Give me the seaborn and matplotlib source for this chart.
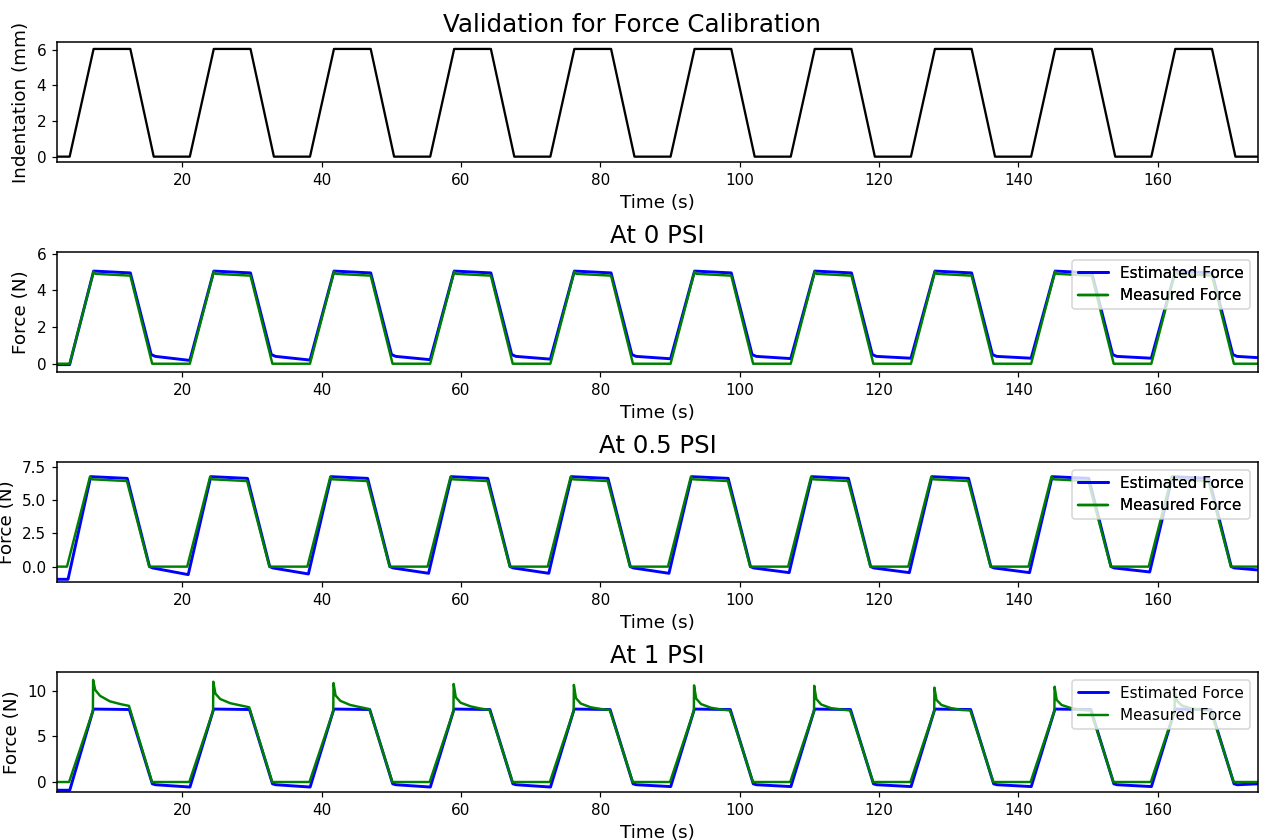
import numpy as np
import pandas as pd
import seaborn as sns
import matplotlib
matplotlib.use("Agg")
import matplotlib.pyplot as plt

# ---------------- data ----------------
T_START, T_END = 2.0, 174.4

# Indentation (mm)
ind_starts = [3.83, 21.08, 38.33, 55.58, 72.83, 90.08, 107.33, 124.58, 141.83, 159.08]
ind_offsets = [0.0, 3.44, 8.71, 12.07]
ind_values = [0.0, 6.05, 6.05, 0.0]

# 0 PSI
p0_starts = [3.83, 21.08, 38.33, 55.58, 72.83, 90.08, 107.33, 124.58, 141.83, 159.08]
p0_meas_offsets = [0.0, 3.44, 3.7, 8.71, 11.85]
p0_meas_values = [0.0, 5.02, 4.9, 4.8, 0.0]
p0_est_offsets = [0.0, 3.44, 8.71, 11.7, 12.3]
p0_est_values = [5.05, 4.95, 0.5, 0.4]          # after the cycle base value
p0_est_base0 = -0.05
p0_est_holdend = [0.18, 0.2, 0.22, 0.25, 0.27, 0.28, 0.3, 0.3, 0.3]
p0_est_final = 0.33
p0_meas_final = 0.0

# 0.5 PSI
p5_starts = [3.45, 20.7, 37.95, 55.2, 72.45, 89.7, 106.95, 124.2, 141.45, 158.7]
p5_meas_offsets = [0.0, 3.3, 3.6, 8.6, 11.8]
p5_meas_values = [0.0, 6.75, 6.55, 6.42, 0.0]
p5_est_offsets = [0.15, 3.4, 8.65, 11.85, 12.3]
p5_est_values = [6.75, 6.62, 0.0, -0.1]
p5_est_base0 = -0.95
p5_est_holdend = [-0.6, -0.55, -0.5, -0.5, -0.5, -0.45, -0.45, -0.45, -0.4]
p5_est_final = -0.25
p5_meas_final = 0.0

# 1 PSI
p1_starts = [3.75, 21.0, 38.25, 55.5, 72.75, 90.0, 107.25, 124.5, 141.75, 159.0]
p1_meas_offsets = [0.0, 3.42, 3.45, 3.75, 4.45, 5.85, 7.35, 8.6, 11.9]
p1_meas_rows = [
    [0.0, 7.8, 11.2, 10.1, 9.45, 8.85, 8.55, 8.35, 0.0],
    [0.0, 7.8, 11.0, 9.7, 9.1, 8.65, 8.4, 8.2, 0.0],
    [0.0, 7.8, 10.85, 9.5, 8.9, 8.45, 8.2, 8.0, 0.0],
    [0.0, 7.8, 10.75, 9.3, 8.7, 8.3, 8.05, 7.9, 0.0],
    [0.0, 7.8, 10.65, 9.2, 8.6, 8.2, 8.0, 7.9, 0.0],
    [0.0, 7.8, 10.6, 9.15, 8.55, 8.15, 7.95, 7.85, 0.0],
    [0.0, 7.8, 10.55, 9.1, 8.5, 8.1, 7.95, 7.85, 0.0],
    [0.0, 7.8, 10.35, 9.0, 8.45, 8.1, 7.9, 7.85, 0.0],
    [0.0, 7.8, 10.45, 9.0, 8.45, 8.1, 7.9, 7.85, 0.0],
    [0.0, 7.8, 9.95, 8.9, 8.4, 8.05, 7.9, 7.85, 0.0],
]
p1_est_offsets = [0.1, 3.5, 8.65, 11.95, 12.4]
p1_est_values = [8.0, 7.95, -0.2, -0.3]
p1_est_base0 = -0.9
p1_est_holdend = [-0.55, -0.55, -0.55, -0.55, -0.5, -0.5, -0.5, -0.5, -0.5]
p1_est_final = -0.2
p1_meas_final = 0.0

suptitle = "Validation for Force Calibration"
titles = [None, "At 0 PSI", "At 0.5 PSI", "At 1 PSI"]
ylabels = ["Indentation (mm)", "Force (N)", "Force (N)", "Force (N)"]
xticks = [20, 40, 60, 80, 100, 120, 140, 160]


# ---------------- helpers ----------------
def build_rows(starts, offsets, rows, first_val, final_val):
    t = [T_START]
    v = [first_val]
    for s, row in zip(starts, rows):
        for o, val in zip(offsets, row):
            t.append(s + o)
            v.append(val)
    t.append(T_END)
    v.append(final_val)
    return pd.DataFrame({"t": t, "v": v})


def build_fixed(starts, offsets, values, final_val):
    rows = [values for _ in starts]
    return build_rows(starts, offsets, rows, values[0], final_val)


def build_est(starts, offsets, values, base0, holdends, final_val):
    bases = [base0] + list(holdends)
    rows = [[b] + list(values) for b in bases]
    return build_rows(starts, offsets, rows, base0, final_val)


ind_df = build_fixed(ind_starts, ind_offsets, ind_values, 0.0)
p0_meas = build_fixed(p0_starts, p0_meas_offsets, p0_meas_values, p0_meas_final)
p0_est = build_est(p0_starts, p0_est_offsets, p0_est_values, p0_est_base0, p0_est_holdend, p0_est_final)
p5_meas = build_fixed(p5_starts, p5_meas_offsets, p5_meas_values, p5_meas_final)
p5_est = build_est(p5_starts, p5_est_offsets, p5_est_values, p5_est_base0, p5_est_holdend, p5_est_final)
p1_meas = build_rows(p1_starts, p1_meas_offsets, p1_meas_rows, 0.0, p1_meas_final)
p1_est = build_est(p1_starts, p1_est_offsets, p1_est_values, p1_est_base0, p1_est_holdend, p1_est_final)

# ---------------- style ----------------
sns.set_style("ticks")
plt.rcParams.update({
    "font.family": ["DejaVu Sans"],
    "text.color": "black",
    "axes.labelcolor": "black",
    "axes.edgecolor": "black",
    "xtick.color": "black",
    "ytick.color": "black",
    "axes.linewidth": 1.0,
    "axes.titlesize": 16,
    "axes.labelsize": 12,
    "xtick.labelsize": 10,
    "ytick.labelsize": 10,
    "legend.fontsize": 10,
    "xtick.major.size": 3.5,
    "ytick.major.size": 3.5,
    "xtick.major.width": 0.8,
    "ytick.major.width": 0.8,
})

DPI = 110
fig = plt.figure(figsize=(1264 / DPI, 840 / DPI), dpi=DPI)
axes = fig.subplots(4, 1)
fig.subplots_adjust(left=0.045, right=0.9953, top=0.95, bottom=0.0572, hspace=0.75)

ylims = [(-0.3, 6.44), (-0.45, 6.09), (-1.15, 7.85), (-1.09, 12.07)]
yticks = [[0, 2, 4, 6], [0, 2, 4, 6], [0.0, 2.5, 5.0, 7.5], [0, 5, 10]]

# top panel
sns.lineplot(data=ind_df, x="t", y="v", ax=axes[0], color="black", lw=1.5,
             estimator=None, sort=False)

pairs = [(p0_est, p0_meas), (p5_est, p5_meas), (p1_est, p1_meas)]
for i, (est, meas) in enumerate(pairs, start=1):
    ax = axes[i]
    sns.lineplot(data=est, x="t", y="v", ax=ax, color="blue", lw=1.9,
                 estimator=None, sort=False, label="Estimated Force")
    sns.lineplot(data=meas, x="t", y="v", ax=ax, color="green", lw=1.6,
                 estimator=None, sort=False, label="Measured Force")
    leg = ax.legend(loc="upper right")
    if i in (1, 2):
        ax.add_artist(leg)
        ax.legend(loc="upper right", frameon=False)

for k, ax in enumerate(axes):
    ax.set_xlim(T_START, T_END)
    ax.set_ylim(*ylims[k])
    ax.set_xticks(xticks)
    ax.set_yticks(yticks[k])
    if k == 2:
        ax.set_yticklabels(["0.0", "2.5", "5.0", "7.5"])
    if titles[k]:
        ax.set_title(titles[k])
    ax.set_xlabel("Time (s)")
    ax.set_ylabel(ylabels[k])

fig.suptitle(suptitle, fontsize=16, x=0.5, y=1 - 32.5 / 840, va="baseline")

fig.savefig("out.png", dpi=DPI)
